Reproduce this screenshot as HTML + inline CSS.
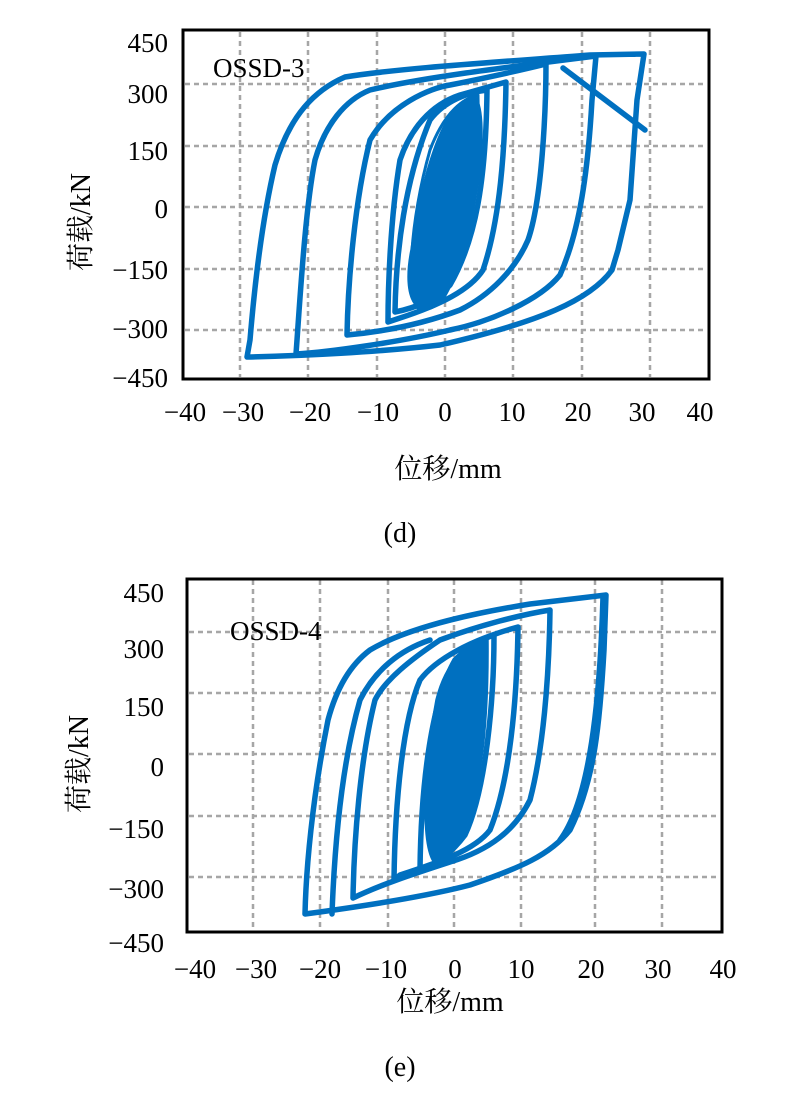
<!DOCTYPE html>
<html><head><meta charset="utf-8"><style>
body{margin:0;background:#fff;}
svg{display:block;}
text{font-family:"Liberation Serif","Noto Serif CJK SC",serif;fill:#000;}
</style></head><body>
<svg width="809" height="1095" viewBox="0 0 809 1095" xmlns="http://www.w3.org/2000/svg">
<g stroke="#a6a6a6" stroke-width="2.5" stroke-dasharray="5,4" fill="none">
<line x1="240" y1="32" x2="240" y2="377"/><line x1="308" y1="32" x2="308" y2="377"/><line x1="377" y1="32" x2="377" y2="377"/><line x1="445" y1="32" x2="445" y2="377"/><line x1="513" y1="32" x2="513" y2="377"/><line x1="582" y1="32" x2="582" y2="377"/><line x1="650" y1="32" x2="650" y2="377"/>
<line x1="185" y1="84" x2="707" y2="84"/><line x1="185" y1="146" x2="707" y2="146"/><line x1="185" y1="207" x2="707" y2="207"/><line x1="185" y1="269" x2="707" y2="269"/><line x1="185" y1="330" x2="707" y2="330"/>
<line x1="253" y1="580" x2="253" y2="930"/><line x1="320" y1="580" x2="320" y2="930"/><line x1="388" y1="580" x2="388" y2="930"/><line x1="454" y1="580" x2="454" y2="930"/><line x1="521" y1="580" x2="521" y2="930"/><line x1="595" y1="580" x2="595" y2="930"/><line x1="662" y1="580" x2="662" y2="930"/>
<line x1="189" y1="632" x2="720" y2="632"/><line x1="189" y1="693" x2="720" y2="693"/><line x1="189" y1="754" x2="720" y2="754"/><line x1="189" y1="816" x2="720" y2="816"/><line x1="189" y1="877" x2="720" y2="877"/>
</g>
<g stroke="#0070c0" stroke-width="5.5" fill="none" stroke-linejoin="round" stroke-linecap="round">
<!-- top chart -->
<path d="M644,54 L637,100 L630,200 L618,250 L612,270 C590,300 540,322 440,345 C380,352 300,356 247,357 L250,340 C255,280 262,220 275,165 C290,115 315,90 345,77 C400,68 500,62 590,55 L644,54 Z"/>
<path d="M563,68 L645,130"/>
<path d="M596,56 L592,100 C588,170 580,230 560,275 C540,300 490,322 450,330 C400,342 330,352 296,354 C300,300 305,210 315,160 C325,125 345,100 370,90 C420,78 500,68 596,56 Z"/>
<path d="M546,62 C546,110 542,200 528,240 C515,270 490,295 460,310 C420,325 380,332 347,335 C348,280 355,200 370,140 C390,105 430,88 450,85 C500,75 530,68 546,64"/>
<path d="M506,82 C505,150 500,220 483,270 C470,290 440,305 400,318 L388,322 C388,290 390,220 400,160 C410,130 430,105 460,95 Z"/>
<path d="M487,90 C486,180 476,240 450,285 C435,300 415,308 395,312 C396,250 405,180 430,120 C445,100 470,92 487,90 Z"/>
<path d="M478,95 C480,200 462,270 420,310 C405,300 410,220 430,150 C445,110 465,98 478,95 Z" stroke-width="3"/>
<path d="M474,98 C490,120 472,250 442,298 C420,322 403,300 413,250 C423,180 443,105 474,98 Z" fill="#0070c0"/>
<!-- bottom chart -->
<path d="M606,595 L604,650 C600,720 595,780 570,830 C550,855 520,868 470,885 C420,898 350,908 305,914 C306,870 312,800 328,720 C336,690 350,665 370,650 C400,632 450,617 530,604 Z"/>
<path d="M603,597 C600,700 590,800 560,840 M332,914 C334,860 340,770 360,700 C375,670 400,650 430,640"/>
<path d="M550,610 C549,680 543,750 530,800 C515,830 490,850 450,862 C410,875 380,885 353,898 C354,840 360,760 375,700 C385,680 410,660 440,640 C480,625 520,615 550,610 Z"/>
<path d="M518,627 C517,700 510,780 490,830 C475,850 440,862 400,875 L394,880 C395,800 403,720 420,680 C435,660 470,640 518,627 Z"/>
<path d="M494,635 C494,700 486,790 465,835 C450,855 435,865 420,870 C421,780 432,700 455,660 C470,645 485,638 494,635 Z"/>
<path d="M486,640 C487,760 472,830 440,865 C423,860 423,780 438,700 C448,660 470,645 486,640 Z" fill="#0070c0"/>
</g>
<g fill="none" stroke="#000" stroke-width="3">
<rect x="183" y="30" width="526" height="349"/>
<rect x="187" y="579" width="535" height="353"/>
</g>
<g font-size="27" text-anchor="end">
<text x="168" y="52">450</text><text x="168" y="103">300</text><text x="168" y="160">150</text><text x="168" y="218">0</text><text x="168" y="279">−150</text><text x="168" y="338">−300</text><text x="168" y="387">−450</text>
<text x="164" y="602">450</text><text x="164" y="658">300</text><text x="164" y="716">150</text><text x="164" y="776">0</text><text x="164" y="838">−150</text><text x="164" y="898">−300</text><text x="164" y="952">−450</text>
</g>
<g font-size="27" text-anchor="middle">
<text x="185" y="421">−40</text><text x="243" y="421">−30</text><text x="310" y="421">−20</text><text x="378" y="421">−10</text><text x="445" y="421">0</text><text x="512" y="421">10</text><text x="578" y="421">20</text><text x="642" y="421">30</text><text x="700" y="421">40</text>
<text x="195" y="978">−40</text><text x="256" y="978">−30</text><text x="320" y="978">−20</text><text x="386" y="978">−10</text><text x="455" y="978">0</text><text x="521" y="978">10</text><text x="591" y="978">20</text><text x="658" y="978">30</text><text x="723" y="978">40</text>
<text x="448" y="478" font-size="28">位移/mm</text>
<text x="450" y="1011" font-size="28">位移/mm</text>
<text x="400" y="542" font-size="28">(d)</text>
<text x="400" y="1076" font-size="28">(e)</text>
<text transform="translate(90,222) rotate(-90)" font-size="28">荷载/kN</text>
<text transform="translate(88,764) rotate(-90)" font-size="28">荷载/kN</text>
</g>
<text x="213" y="77" font-size="27">OSSD-3</text>
<text x="230" y="640" font-size="27">OSSD-4</text>
</svg>
</body></html>
